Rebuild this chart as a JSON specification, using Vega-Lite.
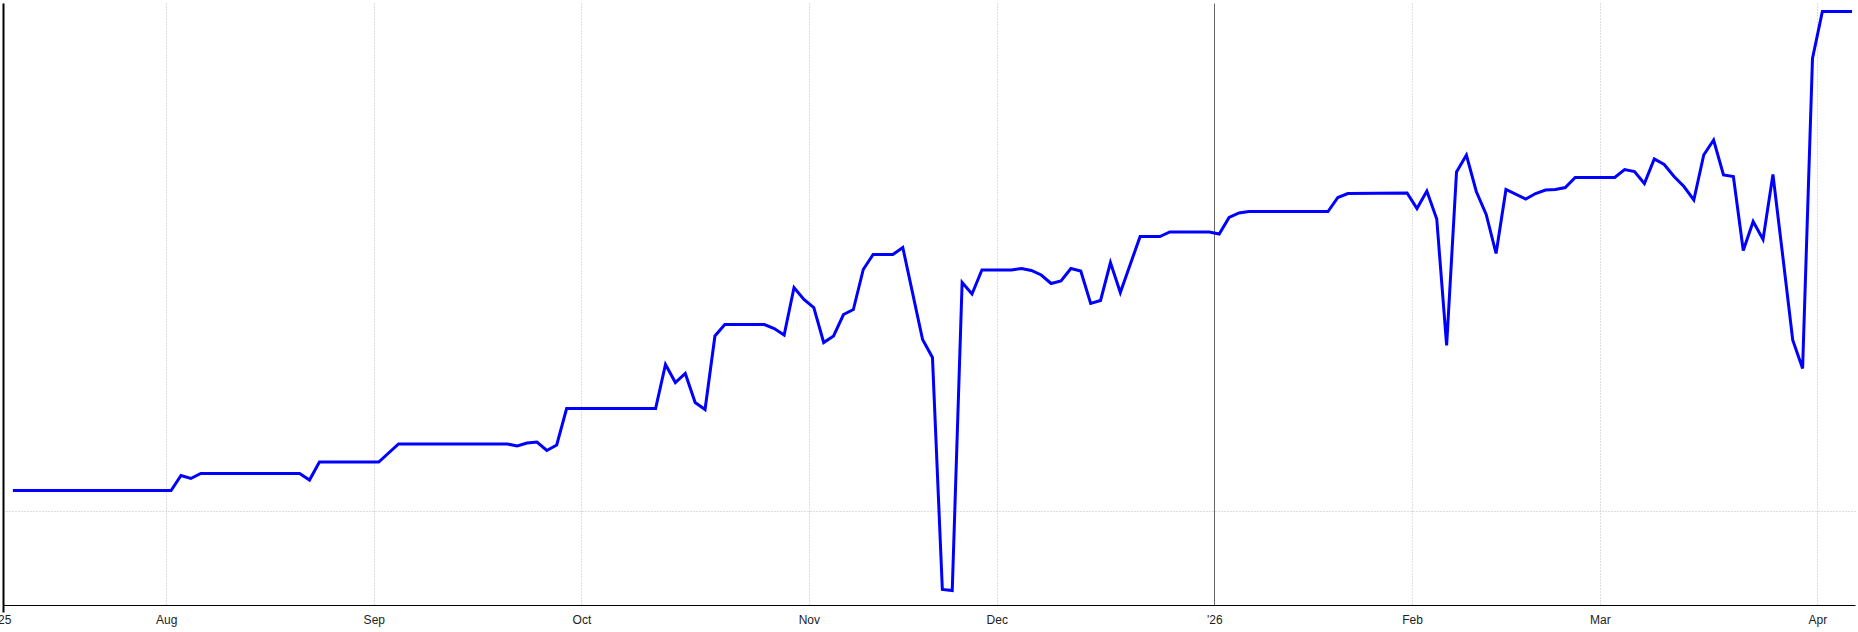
{
  "$schema": "https://vega.github.io/schema/vega-lite/v6.json",
  "width": 1852,
  "height": 602,
  "autosize": {"type": "none"},
  "padding": {"left": 3, "top": 3, "right": 3, "bottom": 27},
  "background": "white",
  "config": {"view": {"stroke": null}},
  "data": {
    "values": [
      {"day": 1, "value": 4.1}, {"day": 17, "value": 4.1}, {"day": 18, "value": 7.1}, {"day": 19, "value": 6.5},
      {"day": 20, "value": 7.5}, {"day": 30, "value": 7.5}, {"day": 31, "value": 6.2}, {"day": 32, "value": 9.8},
      {"day": 38, "value": 9.8}, {"day": 40, "value": 13.4}, {"day": 51, "value": 13.4}, {"day": 52, "value": 13.0},
      {"day": 53, "value": 13.6}, {"day": 54, "value": 13.8}, {"day": 55, "value": 12.1}, {"day": 56, "value": 13.2},
      {"day": 57, "value": 20.5}, {"day": 66, "value": 20.5}, {"day": 67, "value": 29.3}, {"day": 68, "value": 25.7},
      {"day": 69, "value": 27.5}, {"day": 70, "value": 21.7}, {"day": 71, "value": 20.3}, {"day": 72, "value": 35.0},
      {"day": 73, "value": 37.3}, {"day": 77, "value": 37.3}, {"day": 78, "value": 36.5}, {"day": 79, "value": 35.2},
      {"day": 80, "value": 44.7}, {"day": 81, "value": 42.3}, {"day": 82, "value": 40.7}, {"day": 83, "value": 33.7},
      {"day": 84, "value": 35.0}, {"day": 85, "value": 39.3}, {"day": 86, "value": 40.3}, {"day": 87, "value": 48.3},
      {"day": 88, "value": 51.3}, {"day": 90, "value": 51.3}, {"day": 91, "value": 52.7}, {"day": 93, "value": 34.3},
      {"day": 94, "value": 30.7}, {"day": 95, "value": -15.7}, {"day": 96, "value": -15.9}, {"day": 97, "value": 45.7},
      {"day": 98, "value": 43.4}, {"day": 99, "value": 48.2}, {"day": 102, "value": 48.2}, {"day": 103, "value": 48.5},
      {"day": 104, "value": 48.1}, {"day": 105, "value": 47.2}, {"day": 106, "value": 45.5}, {"day": 107, "value": 46.0},
      {"day": 108, "value": 48.5}, {"day": 109, "value": 48.0}, {"day": 110, "value": 41.5}, {"day": 111, "value": 42.1},
      {"day": 112, "value": 49.7}, {"day": 113, "value": 43.7}, {"day": 115, "value": 54.9}, {"day": 117, "value": 54.9},
      {"day": 118, "value": 55.8}, {"day": 122, "value": 55.8}, {"day": 123, "value": 55.4}, {"day": 124, "value": 58.7},
      {"day": 125, "value": 59.6}, {"day": 126, "value": 59.9}, {"day": 134, "value": 59.9}, {"day": 135, "value": 62.7},
      {"day": 136, "value": 63.5}, {"day": 142, "value": 63.6}, {"day": 143, "value": 60.5}, {"day": 144, "value": 64.0},
      {"day": 145, "value": 58.4}, {"day": 146, "value": 33.1}, {"day": 147, "value": 67.8}, {"day": 148, "value": 71.2},
      {"day": 149, "value": 63.9}, {"day": 150, "value": 59.3}, {"day": 151, "value": 51.5}, {"day": 152, "value": 64.3},
      {"day": 154, "value": 62.4}, {"day": 155, "value": 63.5}, {"day": 156, "value": 64.2}, {"day": 157, "value": 64.3},
      {"day": 158, "value": 64.7}, {"day": 159, "value": 66.7}, {"day": 163, "value": 66.7}, {"day": 164, "value": 68.3},
      {"day": 165, "value": 67.9}, {"day": 166, "value": 65.5}, {"day": 167, "value": 70.4}, {"day": 168, "value": 69.3},
      {"day": 169, "value": 66.9}, {"day": 170, "value": 64.9}, {"day": 171, "value": 62.2}, {"day": 172, "value": 71.2},
      {"day": 173, "value": 74.2}, {"day": 174, "value": 67.2}, {"day": 175, "value": 66.9}, {"day": 176, "value": 52.1},
      {"day": 177, "value": 57.9}, {"day": 178, "value": 54.3}, {"day": 179, "value": 67.3}, {"day": 180, "value": 50.9},
      {"day": 181, "value": 34.2}, {"day": 182, "value": 28.5}, {"day": 183, "value": 90.5}, {"day": 184, "value": 99.9},
      {"day": 187, "value": 99.9}
    ]
  },
  "mark": {"type": "line", "color": "#0000ff", "strokeWidth": 3, "strokeJoin": "miter", "clip": true},
  "encoding": {
    "x": {
      "field": "day",
      "type": "quantitative",
      "scale": {"domain": [0, 187.3], "nice": false, "zero": false},
      "axis": {
        "title": null,
        "values": [0, 16.5, 37.5, 58.5, 81.5, 100.5, 122.5, 142.5, 161.5, 183.5],
        "labelExpr": "datum.value == 0 ? \"'25\" : datum.value == 16.5 ? 'Aug' : datum.value == 37.5 ? 'Sep' : datum.value == 58.5 ? 'Oct' : datum.value == 81.5 ? 'Nov' : datum.value == 100.5 ? 'Dec' : datum.value == 122.5 ? \"'26\" : datum.value == 142.5 ? 'Feb' : datum.value == 161.5 ? 'Mar' : 'Apr'",
        "grid": true,
        "gridColor": {"condition": {"test": "datum.value == 122.5", "value": "#666666"}, "value": "#bdbdbd"},
        "gridDash": {"condition": {"test": "datum.value == 122.5", "value": []}, "value": [1, 2]},
        "gridWidth": 1,
        "domainColor": "#000000",
        "domainWidth": 1.2,
        "ticks": true,
        "tickSize": 7,
        "tickWidth": 2,
        "tickColor": {"condition": {"test": "datum.value == 0", "value": "#000000"}, "value": "transparent"},
        "labelPadding": 2,
        "labelFont": "Liberation Sans",
        "labelFontSize": 12,
        "labelColor": "#222222",
        "labelOverlap": false,
        "labelFlush": false,
        "labelBound": false
      }
    },
    "y": {
      "field": "value",
      "type": "quantitative",
      "scale": {"domain": [-18.8, 101.6], "nice": false, "zero": false},
      "axis": {
        "title": null,
        "values": [0],
        "labels": false,
        "ticks": false,
        "grid": true,
        "gridColor": "#bdbdbd",
        "gridDash": [1, 2],
        "domainColor": "#000000",
        "domainWidth": 2
      }
    }
  }
}
